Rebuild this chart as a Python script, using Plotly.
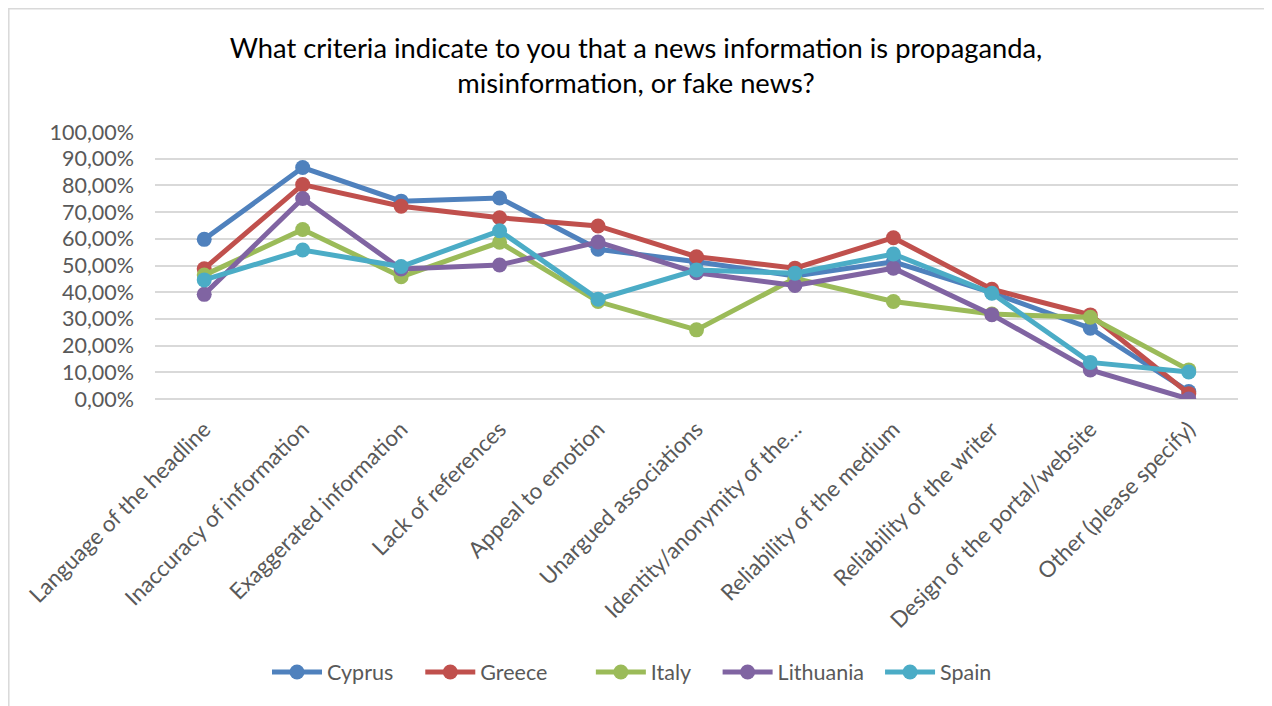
import plotly.graph_objects as go

categories = [
    "Language of the headline",
    "Inaccuracy of information",
    "Exaggerated information",
    "Lack of references",
    "Appeal to emotion",
    "Unargued associations",
    "Identity/anonymity of the…",
    "Reliability of the medium",
    "Reliability of the writer",
    "Design of the portal/website",
    "Other (please specify)",
]

cyprus = [0.598, 0.867, 0.741, 0.753, 0.561, 0.514, 0.461, 0.514, 0.398, 0.265, 0.028]
greece = [0.488, 0.803, 0.722, 0.679, 0.648, 0.533, 0.490, 0.604, 0.411, 0.315, 0.020]
italy = [0.464, 0.635, 0.458, 0.587, 0.365, 0.259, 0.452, 0.365, 0.318, 0.306, 0.109]
lithuania = [0.392, 0.751, 0.487, 0.502, 0.588, 0.473, 0.425, 0.490, 0.316, 0.109, 0.0]
spain = [0.446, 0.558, 0.496, 0.630, 0.374, 0.483, 0.471, 0.543, 0.396, 0.137, 0.101]

series = [
    ("Cyprus", cyprus, "#4F81BD", 4),
    ("Greece", greece, "#C0504D", 7),
    ("Italy", italy, "#9BBB59", 4),
    ("Lithuania", lithuania, "#8064A2", 2),
    ("Spain", spain, "#4BACC6", 0),
]

y_ticks = [i / 10 for i in range(11)]

fig = go.Figure()
for name, vals, color, pad in series:
    fig.add_trace(go.Scatter(
        x=categories, y=vals, name=name + "\u00a0" * pad, mode="lines+markers",
        line=dict(color=color, width=5),
        marker=dict(color=color, size=15),
    ))

# page is offset by the 8px body margin; plot area in page px: x 155-1238, y 132-399
font_family = "Lato, 'Open Sans', sans-serif"
fig.update_layout(
    width=1264, height=698,
    paper_bgcolor="white", plot_bgcolor="white",
    separators=",.",
    margin=dict(l=147, r=34, t=124, b=307, autoexpand=False),
    font=dict(family=font_family, color="#595959", size=21.5),
    title=dict(
        text="What criteria indicate to you that a news information is propaganda,<br>misinformation, or fake news?",
        x=(636 - 8) / 1264, xref="container", xanchor="center",
        y=1 - (58 - 8) / 698, yref="container", yanchor="middle",
        font=dict(size=27.3, color="#000000", family=font_family),
    ),
    xaxis=dict(
        type="category", range=[-0.5, 10.5], tickangle=-45,
        showgrid=False, showline=False, ticks="", zeroline=False,
        tickfont=dict(size=22.3, color="#595959"),
        ticklabelstandoff=12,
    ),
    yaxis=dict(
        range=[0, 1], tickvals=y_ticks, tickformat=".2%",
        showgrid=True, gridcolor="#D9D9D9", gridwidth=1.5,
        zeroline=True, zerolinecolor="#D9D9D9", zerolinewidth=1.5,
        showline=False, ticks="", ticklen=0,
        tickfont=dict(size=21.5, color="#595959"),
        ticklabelstandoff=20,
    ),
    legend=dict(
        orientation="h", x=(267 - 155) / 1083, xanchor="left", xref="paper",
        y=(399 - 672) / 267, yanchor="middle",
        font=dict(size=21.5, color="#595959"),
        itemwidth=50,
    ),
    showlegend=True,
)

fig.add_shape(
    type="rect", xref="paper", yref="paper",
    x0=(8.8 - 155) / 1083, x1=(1268 - 155) / 1083,
    y0=(399 - 720) / 267, y1=(399 - 8.8) / 267,
    line=dict(color="#D9D9D9", width=1.5), fillcolor="rgba(0,0,0,0)",
    layer="below",
)

fig.write_html("out.html")
